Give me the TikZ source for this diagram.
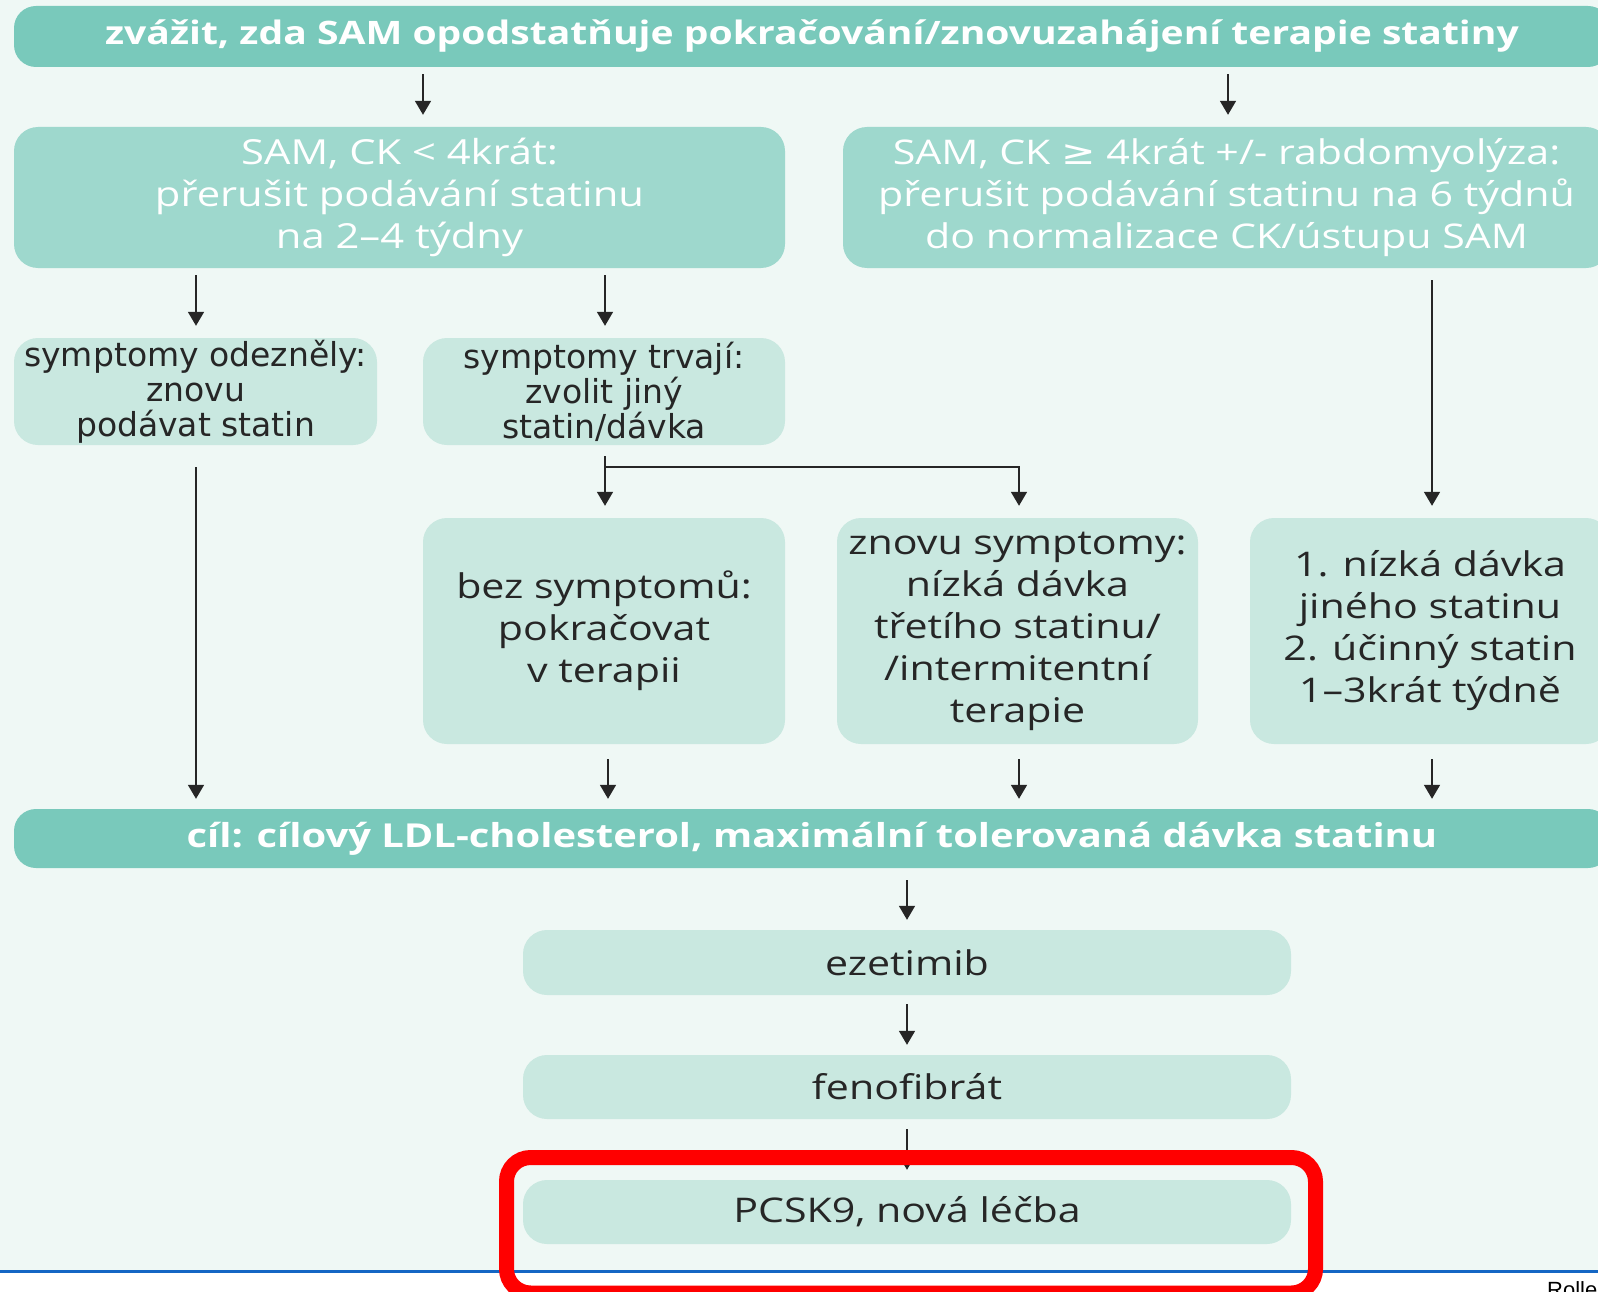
\documentclass[tikz,border=0pt]{standalone}
\usepackage{fontspec}
\setmainfont{Open Sans}[FakeStretch=1.21]
\newfontfamily\symfont{DejaVu Sans}[FakeStretch=1.21]
\newfontfamily\verdfont{DejaVu Sans}
\newfontfamily\notefont{Liberation Sans}
\usetikzlibrary{arrows.meta}

\definecolor{mintbg}{RGB}{239,248,245}
\definecolor{darkteal}{RGB}{121,201,187}
\definecolor{midteal}{RGB}{158,216,205}
\definecolor{paleteal}{RGB}{201,232,224}
\definecolor{inkgray}{RGB}{38,38,38}
\definecolor{rulebl}{RGB}{20,102,196}

\tikzset{
	banner/.style={fill=darkteal, rounded corners=22pt, text=white, inner sep=0pt, font=\bfseries\fontsize{33}{40}\selectfont},
	ckbox/.style={fill=midteal, rounded corners=24pt, text=white, align=center, inner sep=0pt, font=\fontsize{34.5}{42}\selectfont},
	palebox/.style={fill=paleteal, rounded corners=24pt, text=inkgray, align=center, inner sep=0pt, font=\fontsize{34}{42}\selectfont},
	smallbox/.style={palebox, font=\verdfont\fontsize{33}{35}\selectfont},
	arr/.style={line width=1.7pt, draw=inkgray, -{Triangle[width=16pt,length=14pt]}, shorten <=7pt, shorten >=12pt},
}

\begin{document}
\begin{tikzpicture}[x=1pt,y=-1pt]
	\useasboundingbox (0,0) rectangle (1598,1292);
	\clip (0,0) rectangle (1598,1292);
	\fill[mintbg] (0,0) rectangle (1598,1271);
	
	%columns
	\coordinate (k1) at (196,0);
	\coordinate (k2) at (605,0);
	\coordinate (k3) at (1019,0);
	\coordinate (k4) at (1432,0);
	
	%nodes
	\node[banner, minimum width=1596pt, minimum height=61pt, font=\bfseries\fontsize{32.3}{40}\selectfont] (zvazit) at (812,36.5) {zvážit, zda SAM opodstatňuje pokračování/znovuzahájení terapie statiny};
	\node[ckbox, minimum width=771pt, minimum height=141pt] (ckmaly) at (399.5,197.5) {SAM, CK < 4krát:\\přerušit podávání statinu\\na 2–4 týdny};
	\node[ckbox, minimum width=767pt, minimum height=141pt, font=\fontsize{34}{42}\selectfont] (ckvelky) at (1226.5,197.5) {SAM, CK {\symfont ≥} 4krát +/- rabdomyolýza:\\přerušit podávání statinu na 6 týdnů\\do normalizace CK/ústupu SAM};
	\node[smallbox, minimum width=363pt, minimum height=107pt] (odeznely) at (195.5,391.5) {symptomy odezněly:\\znovu\\podávat statin};
	\node[smallbox, minimum width=362pt, minimum height=107pt] (trvaji) at (604,391.5) {symptomy trvají:\\zvolit jiný\\statin/dávka};
	\node[palebox, minimum width=362pt, minimum height=226pt] (bezsympt) at (604,631) {bez symptomů:\\pokračovat\\v terapii};
	\node[palebox, minimum width=361pt, minimum height=226pt] (znovusympt) at (1017.5,631) {znovu symptomy:\\nízká dávka\\třetího statinu/\\/intermitentní\\terapie};
	\node[palebox, minimum width=360pt, minimum height=226pt] (nizka) at (1430,631) {1. nízká dávka\\jiného statinu\\2. účinný statin\\1–3krát týdně};
	\node[banner, minimum width=1596pt, minimum height=59pt] (cil) at (812,838.5) {cíl: cílový LDL-cholesterol, maximální tolerovaná dávka statinu};
	\node[palebox, minimum width=768pt, minimum height=65pt] (ezetimib) at (907,962.5) {ezetimib};
	\node[palebox, minimum width=768pt, minimum height=64pt] (fenofibrat) at (907,1087) {fenofibrát};
	\node[palebox, minimum width=768pt, minimum height=64pt] (pcsk) at (907,1212) {PCSK9, nová léčba};
	
	%arrows
	\draw[arr] (zvazit.south -| 423,0) -- (ckmaly.north -| 423,0);		%zvazit--ckmaly
	\draw[arr] (zvazit.south -| 1228,0) -- (ckvelky.north -| 1228,0);	%zvazit--ckvelky
	\draw[arr] (ckmaly.south -| k1) -- (odeznely.north -| k1);			%ckmaly--odeznely
	\draw[arr] (ckmaly.south -| k2) -- (trvaji.north -| k2);			%ckmaly--trvaji
	\draw[arr, shorten <=12pt] (ckvelky.south -| k4) -- (nizka.north -| k4);	%ckvelky--nizka
	\draw[arr, shorten <=22pt, shorten >=10pt] (odeznely.south -| k1) -- (cil.north -| k1);	%odeznely--cil
	\draw[arr, shorten <=11pt] (trvaji.south -| k2) -- (bezsympt.north -| k2);	%trvaji--bezsympt
	\draw[arr, shorten <=0pt] (605,467) -| (znovusympt.north -| k3);		%trvaji--znovusympt
	\draw[arr, shorten <=15pt, shorten >=10pt] (bezsympt.south -| 608,0) -- (cil.north -| 608,0);	%bezsympt--cil
	\draw[arr, shorten <=15pt, shorten >=10pt] (znovusympt.south -| k3) -- (cil.north -| k3);	%znovusympt--cil
	\draw[arr, shorten <=15pt, shorten >=10pt] (nizka.south -| k4) -- (cil.north -| k4);		%nizka--cil
	\draw[arr, shorten <=12pt, shorten >=10pt] (cil.south) ++(95,0) -- (ezetimib.north);	%cil--ezetimib
	\draw[arr, shorten <=9pt, shorten >=10pt] (ezetimib) -- (fenofibrat);	%ezetimib--fenofibrat
	\draw[arr, shorten <=10pt, shorten >=10pt] (fenofibrat) -- (pcsk);	%fenofibrat--pcsk
	
	%frame
	\draw[rulebl, line width=3pt] (0,1271) -- (1598,1271);
	\draw[red, line width=15pt, rounded corners=24pt] (506.5,1157.5) rectangle (1315.5,1293);
	\node[anchor=north west, inner sep=0pt, font=\notefont\fontsize{22}{24}\selectfont] (zdroj) at (1547,1281) {Rolle};
\end{tikzpicture}
\end{document}
